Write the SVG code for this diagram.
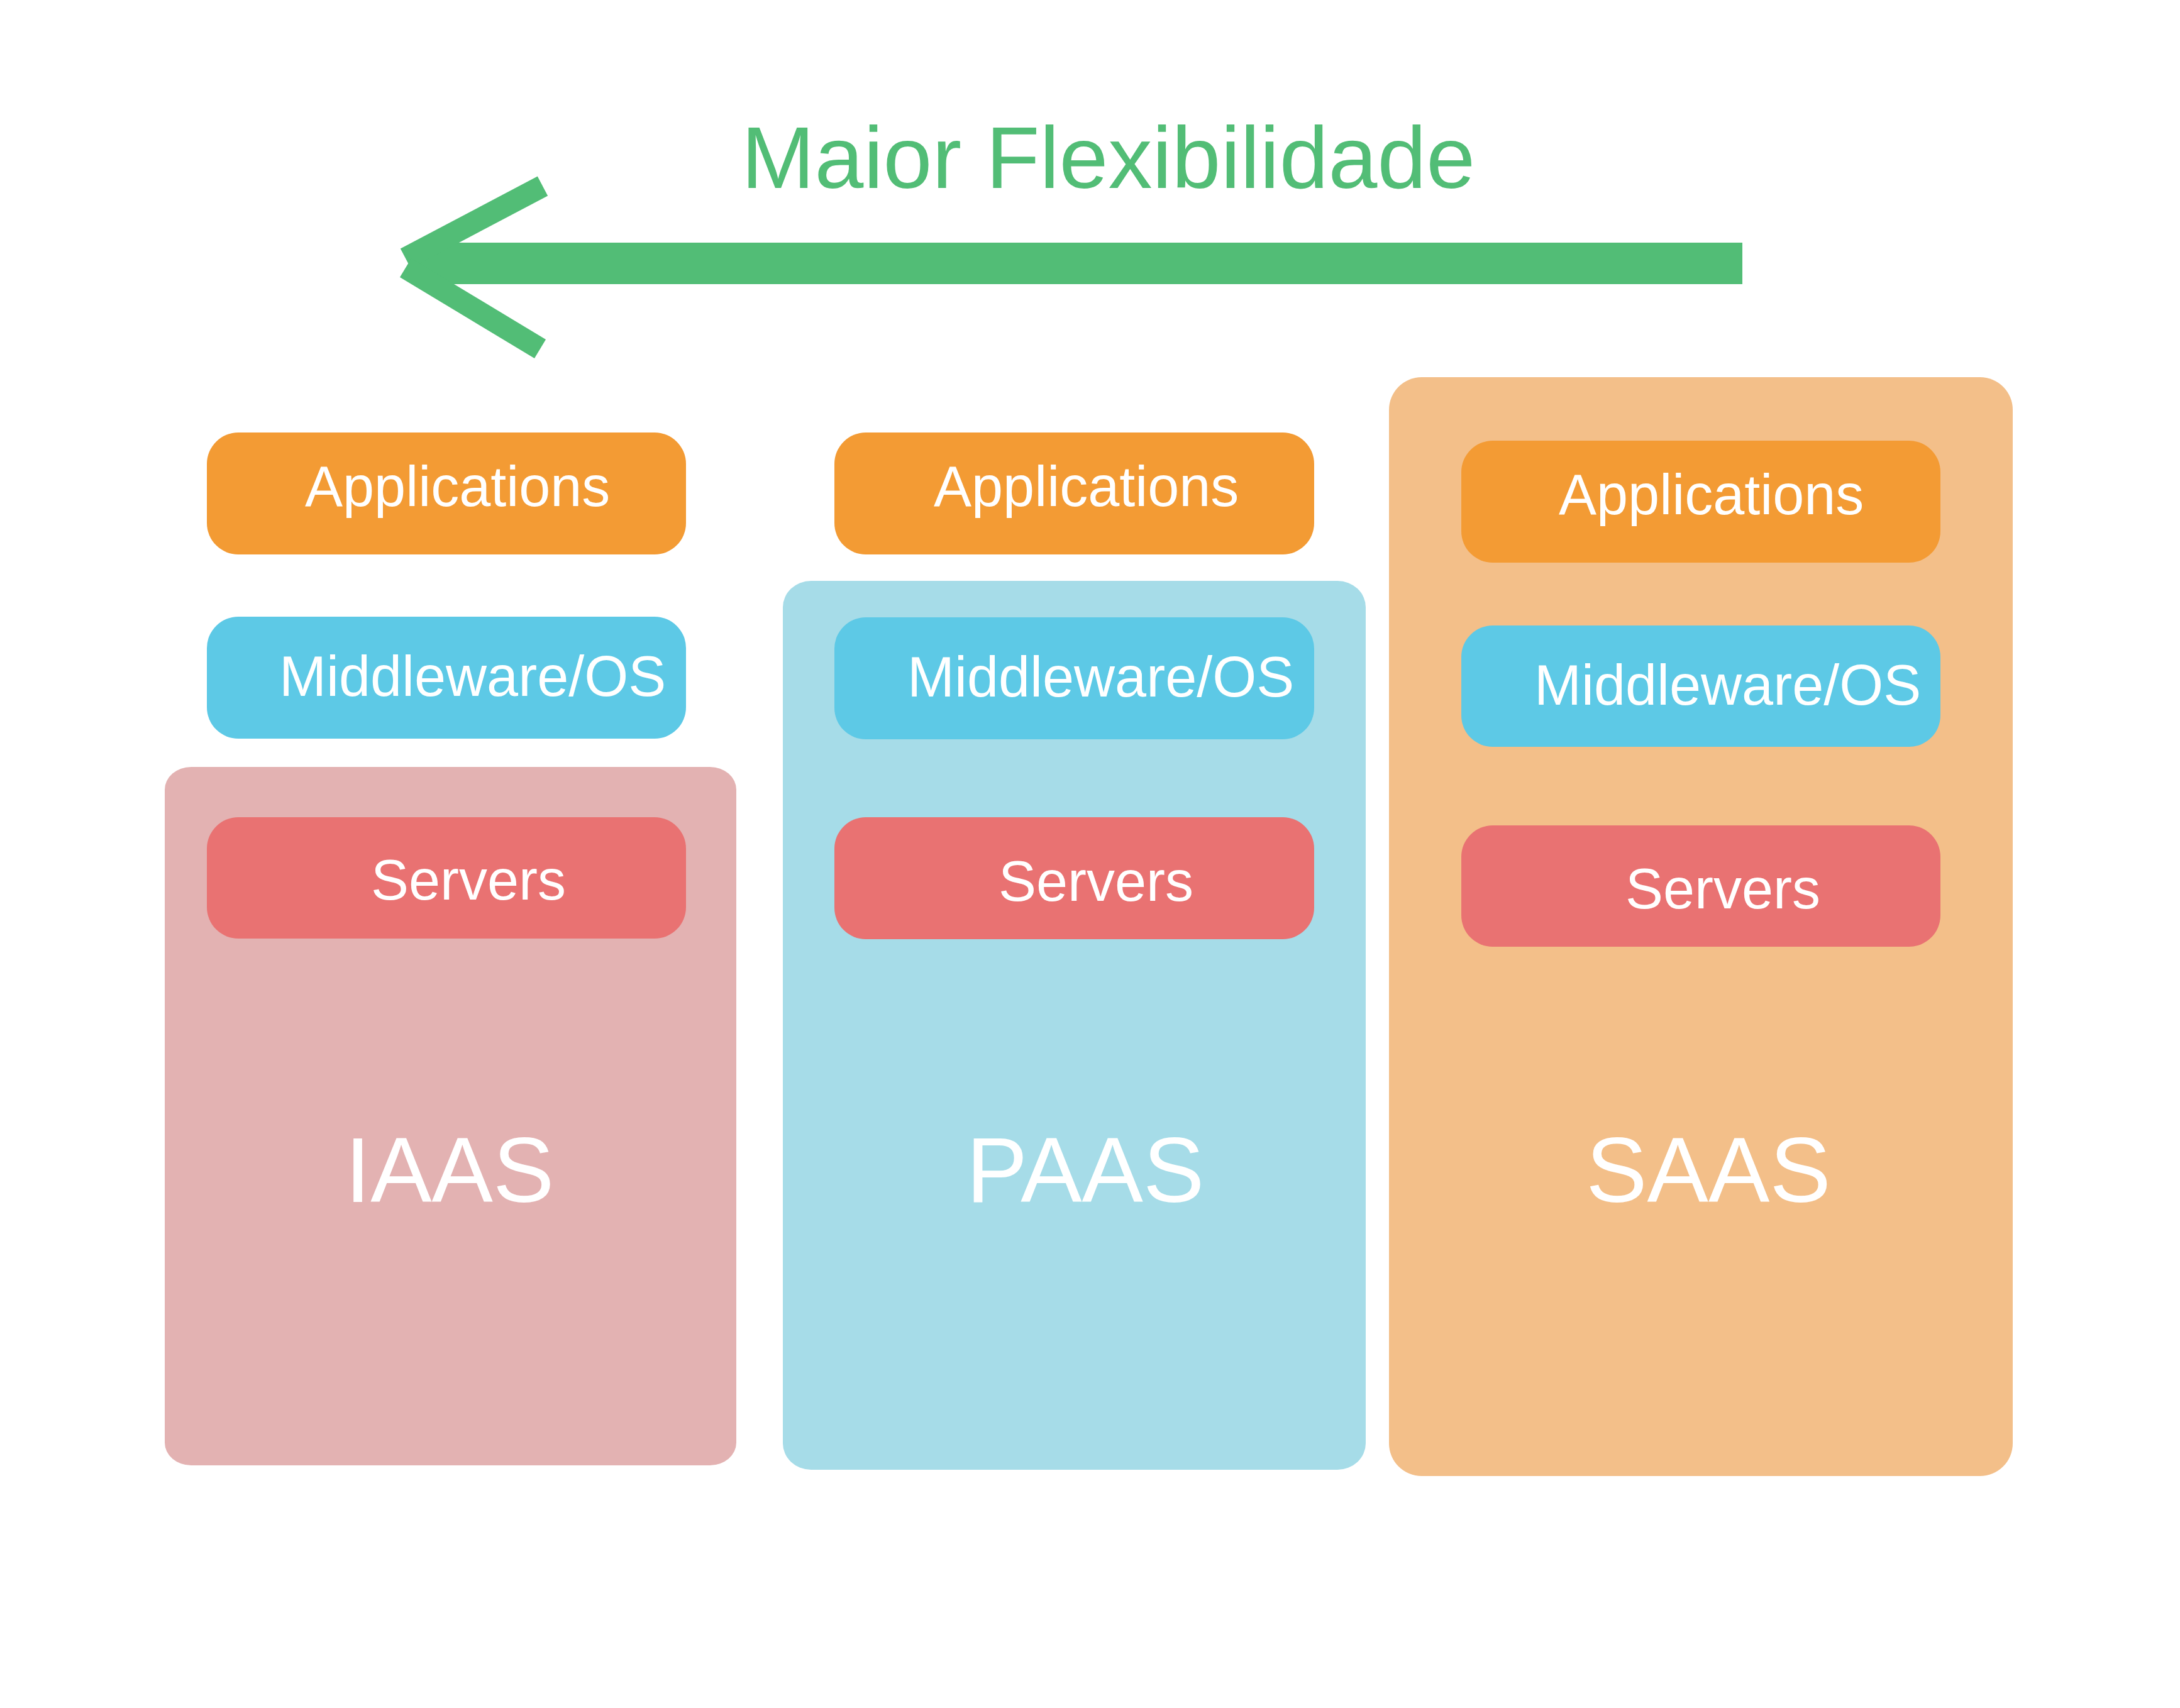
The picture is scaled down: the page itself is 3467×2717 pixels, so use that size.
<svg xmlns="http://www.w3.org/2000/svg" width="3467" height="2717" viewBox="0 0 3467 2717">
<style>
text{font-family:"Liberation Sans",Arial,sans-serif;fill:#ffffff}
.lbl{font-size:90px}
.big{font-size:146px;text-anchor:middle}
.title{font-size:140px;fill:#52BD76}
.app{fill:#F39B34}
.mid{fill:#5DC9E6}
.srv{fill:#E97272}
</style>
<rect width="3467" height="2717" fill="#ffffff"/>
<g id="title"><text class="title" x="1179" y="299">Maior Flexibilidade</text></g>
<g id="connectors" stroke="#52BD76" fill="none">
<line x1="667" y1="419" x2="2771" y2="419" stroke-width="66"/>
<line x1="645" y1="411" x2="863" y2="296" stroke-width="35"/>
<line x1="645" y1="426" x2="859" y2="555" stroke-width="35"/>
</g>
<g id="iaas">
<rect x="262" y="1220" width="909" height="1111" rx="42" ry="36" fill="#E3B2B2"/>
<text class="big" x="715" y="1912">IAAS</text>
</g>
<g id="paas">
<rect x="1245" y="924" width="927" height="1414" rx="45" ry="42" fill="#A6DCE8"/>
<text class="big" x="1726" y="1912">PAAS</text>
</g>
<g id="saas">
<rect x="2209" y="600" width="992" height="1748" rx="52" ry="52" fill="#F3BF89"/>
<text class="big" x="2717" y="1912">SAAS</text>
</g>
<g id="iaas-applications"><rect class="app" x="329" y="688" width="762" height="194" rx="50"/><text class="lbl" x="485" y="805">Applications</text></g>
<g id="iaas-middleware"><rect class="mid" x="329" y="981" width="762" height="194" rx="50"/><text class="lbl" x="444" y="1107">Middleware/OS</text></g>
<g id="iaas-servers"><rect class="srv" x="329" y="1300" width="762" height="193" rx="50"/><text class="lbl" x="590" y="1431">Servers</text></g>
<g id="paas-applications"><rect class="app" x="1327" y="688" width="763" height="194" rx="50"/><text class="lbl" x="1485" y="805">Applications</text></g>
<g id="paas-middleware"><rect class="mid" x="1327" y="982" width="763" height="194" rx="50"/><text class="lbl" x="1443" y="1108">Middleware/OS</text></g>
<g id="paas-servers"><rect class="srv" x="1327" y="1300" width="763" height="194" rx="50"/><text class="lbl" x="1588" y="1433">Servers</text></g>
<g id="saas-applications"><rect class="app" x="2324" y="701" width="762" height="194" rx="50"/><text class="lbl" x="2479" y="818">Applications</text></g>
<g id="saas-middleware"><rect class="mid" x="2324" y="995" width="762" height="193" rx="50"/><text class="lbl" x="2440" y="1121">Middleware/OS</text></g>
<g id="saas-servers"><rect class="srv" x="2324" y="1313" width="762" height="193" rx="50"/><text class="lbl" x="2585" y="1445">Servers</text></g>
</svg>
